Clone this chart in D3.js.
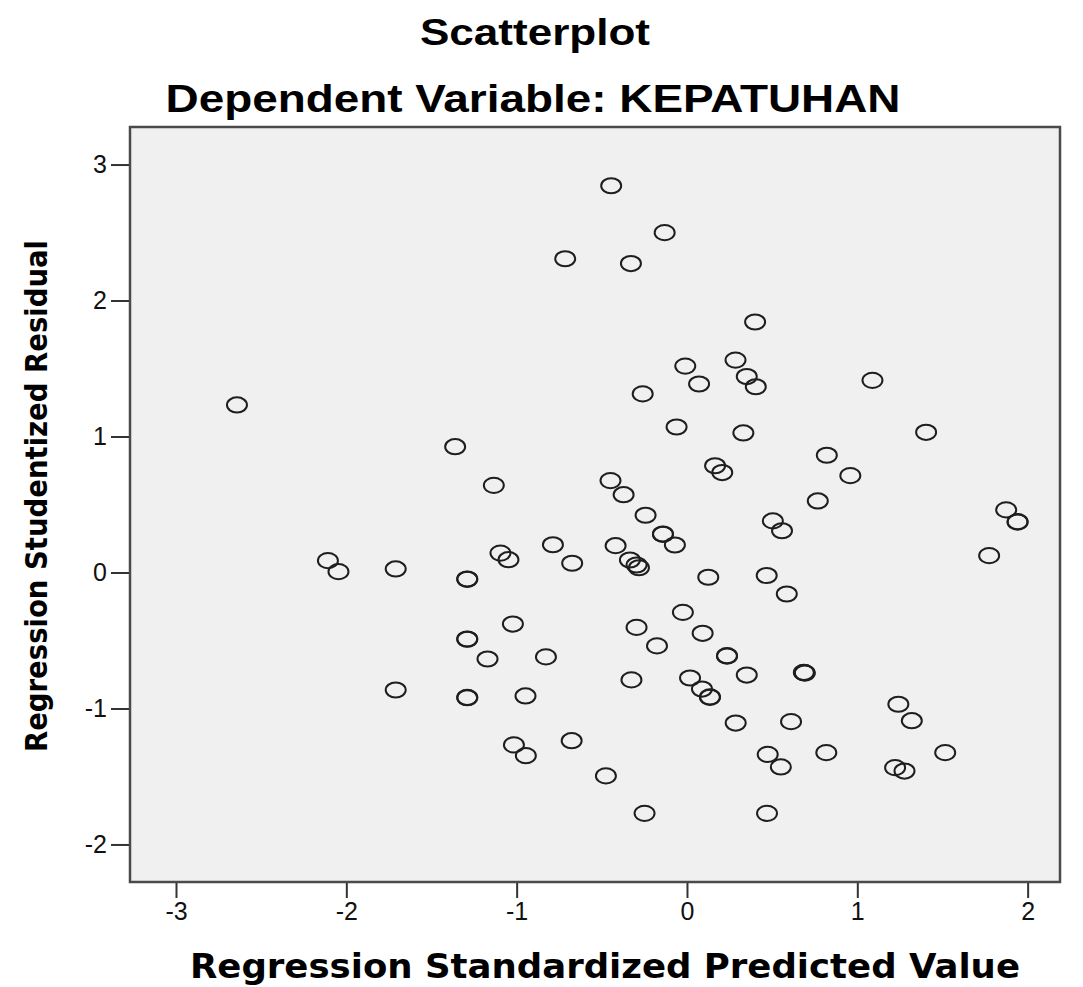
<!DOCTYPE html>
<meta charset="utf-8">
<style>
body { margin:0; background:#fff; }
svg { display:block; }
.tick line { stroke:#333; stroke-width:2px; }
.title { font-family:"Liberation Sans", Arial, sans-serif; font-weight:bold; fill:#000; text-anchor:middle; }
.axlab { font-family:"DejaVu Sans", Verdana, sans-serif; font-weight:bold; fill:#000; text-anchor:middle; }
</style>
<body>
<script src="https://d3js.org/d3.v7.min.js"></script>
<script>

// predicted value (x) and studentized residual (y)
var predicted = [
	-0.445,-0.131,-0.715,-0.329, 0.400, 0.285,-0.010, 0.351, 0.071, 0.404,
	 1.089,-0.260,-2.642,-0.061,-1.361, 0.331, 1.404, 0.821, 0.165, 0.207,
	 0.959,-1.134, 0.768,-0.449,-0.372,-0.243, 1.874, 1.941, 1.941, 0.504,
	 0.558,-0.141,-0.141,-0.071,-0.787,-0.419, 1.774,-2.108,-2.046,-1.095,
	-1.048,-0.674,-0.335,-0.296,-0.282,-1.710,-1.290,-1.290, 0.125, 0.468,
	 0.586,-0.024,-1.022,-0.296, 0.092,-1.290,-1.290,-0.176, 0.235, 0.235,
	-1.171,-0.828, 0.689, 0.692, 0.686,-0.326, 0.351,-1.710,-1.290,-1.290,
	-0.948, 0.018, 0.088, 0.135, 0.135, 1.241, 1.320, 0.286, 0.611,-1.016,
	-0.946,-0.677, 0.474, 0.551, 0.818, 1.516, 1.222, 1.277,-0.476,-0.249,
	 0.470
];
var residual = [
	 2.844, 2.499, 2.307, 2.272, 1.842, 1.562, 1.518, 1.441, 1.386, 1.366,
	 1.413, 1.313, 1.232, 1.070, 0.925, 1.026, 1.031, 0.862, 0.785, 0.735,
	 0.712, 0.641, 0.526, 0.676, 0.572, 0.421, 0.460, 0.374, 0.370, 0.379,
	 0.307, 0.283, 0.280, 0.202, 0.204, 0.197, 0.124, 0.087, 0.006, 0.143,
	 0.094, 0.068, 0.092, 0.055, 0.035, 0.026,-0.048,-0.050,-0.035,-0.022,
	-0.158,-0.293,-0.379,-0.404,-0.447,-0.489,-0.491,-0.540,-0.612,-0.615,
	-0.636,-0.621,-0.737,-0.740,-0.735,-0.790,-0.754,-0.864,-0.919,-0.921,
	-0.908,-0.776,-0.857,-0.915,-0.918,-0.969,-1.090,-1.107,-1.097,-1.268,
	-1.347,-1.237,-1.338,-1.430,-1.325,-1.325,-1.435,-1.460,-1.496,-1.771,
	-1.771
];
var xTicks = [-3,-2,-1,0,1,2];
var yTicks = [-2,-1,0,1,2,3];

var W = 1083, H = 987;
var pL = 130, pR = 1060, pT = 127, pB = 882;

var svg = d3.select("body").append("svg").attr("width",W).attr("height",H);

var x = d3.scaleLinear().domain([-3.27,2.19]).range([pL,pR]);
var y = d3.scaleLinear().domain([-2.276,3.276]).range([pB,pT]);

// titles
svg.append("text").attr("class","title").attr("x",535).attr("y",45)
	.attr("font-size",37).attr("textLength",230).attr("lengthAdjust","spacingAndGlyphs")
	.text("Scatterplot");
svg.append("text").attr("class","title").attr("x",533).attr("y",112)
	.attr("font-size",39).attr("textLength",735).attr("lengthAdjust","spacingAndGlyphs")
	.text("Dependent Variable: KEPATUHAN");

// plot frame
svg.append("rect").attr("x",pL).attr("y",pT)
	.attr("width",pR-pL).attr("height",pB-pT)
	.attr("fill","#f0f0f0").attr("stroke","#4a4a4a").attr("stroke-width",2.5);

// axes
var gx = svg.append("g").attr("transform","translate(0,"+(pB+1)+")")
	.call(d3.axisBottom(x).tickValues(xTicks).tickSize(15).tickPadding(4).tickFormat(d=>String(d)));
gx.select(".domain").remove();

var gy = svg.append("g").attr("transform","translate("+(pL-1)+",0)")
	.call(d3.axisLeft(y).tickValues(yTicks).tickSize(18).tickPadding(4).tickFormat(d=>String(d)));
gy.select(".domain").remove();

[gx,gy].forEach(function(g){
	g.attr("font-size",25).attr("font-family","'Liberation Sans', Arial, sans-serif");
	g.selectAll(".tick text").attr("fill","#111");
});

// axis labels
svg.append("text").attr("class","axlab").attr("x",605).attr("y",978)
	.attr("font-size",34).attr("textLength",830).attr("lengthAdjust","spacingAndGlyphs")
	.text("Regression Standardized Predicted Value");
svg.append("text").attr("class","axlab")
	.attr("transform","translate(47,496) rotate(-90)")
	.attr("font-size",30).attr("textLength",512).attr("lengthAdjust","spacingAndGlyphs")
	.text("Regression Studentized Residual");

// points
var pts = predicted.map(function(d,i){ return [d, residual[i]]; });
svg.append("g").selectAll("ellipse").data(pts).enter().append("ellipse")
	.attr("cx",d=>x(d[0]))
	.attr("cy",d=>y(d[1]))
	.attr("rx",10).attr("ry",7.6)
	.attr("fill","none").attr("stroke","#1e1e1e").attr("stroke-width",2);

</script>
</body>
